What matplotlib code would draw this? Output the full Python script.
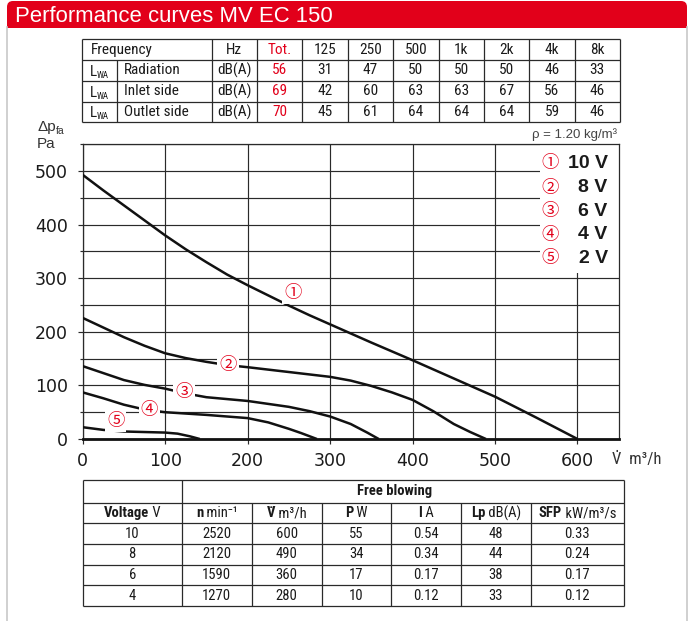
import matplotlib
matplotlib.use("Agg")
import matplotlib.pyplot as plt
from matplotlib import font_manager as fm
from matplotlib.patches import Rectangle, FancyBboxPatch

# ---------------- data ----------------
title = "Performance curves MV EC 150"
freq_labels = ["125", "250", "500", "1k", "2k", "4k", "8k"]
sound_rows = ["Radiation", "Inlet side", "Outlet side"]
sound_tot = [56, 69, 70]
sound_radiation = [31, 47, 50, 50, 50, 46, 33]
sound_inlet = [42, 60, 63, 63, 67, 56, 46]
sound_outlet = [45, 61, 64, 64, 64, 59, 46]

q_10v = [0, 25, 50, 75, 100, 125, 150, 175, 200, 225, 250, 275, 300, 350, 400, 450, 500, 550, 600]
dp_10v = [493, 464, 436, 408, 380, 354, 330, 307, 287, 268, 249, 231, 214, 180, 147, 113, 79, 40, 0]
q_8v = [0, 25, 50, 75, 100, 125, 150, 175, 200, 250, 300, 325, 350, 375, 400, 425, 450, 470, 489]
dp_8v = [226, 208, 190, 174, 160, 151, 144, 138, 134, 125, 116, 109, 99, 87, 73, 52, 28, 13, 0]
q_6v = [0, 25, 50, 75, 100, 125, 150, 200, 250, 275, 300, 325, 345, 359]
dp_6v = [136, 123, 110, 101, 94, 85, 78, 71, 60, 52, 42, 28, 12, 0]
q_4v = [0, 25, 50, 75, 100, 150, 200, 225, 250, 265, 284]
dp_4v = [87, 76, 64, 55, 50, 45, 39, 31, 19, 11, 0]
q_2v = [0, 25, 50, 75, 100, 115, 130, 142]
dp_2v = [22, 17, 14, 13, 12, 10, 5, 0]

curve_marks = ["\u2460", "\u2461", "\u2462", "\u2463", "\u2464"]
legend_labels = ["10 V", "8 V", "6 V", "4 V", "2 V"]

fb_voltage = ["10", "8", "6", "4"]
fb_n = ["2520", "2120", "1590", "1270"]
fb_q = ["600", "490", "360", "280"]
fb_p = ["55", "34", "17", "10"]
fb_i = ["0.54", "0.34", "0.17", "0.12"]
fb_lp = ["48", "44", "38", "33"]
fb_sfp = ["0.33", "0.24", "0.17", "0.12"]

# ---------------- style / layout ----------------
RED = "#e2001a"
INK = "#1a1a1a"
names = set(f.name for f in fm.fontManager.ttflist)
NARROW = next((n for n in ["Liberation Sans Narrow", "Roboto Condensed",
                           "Open Sans Condensed", "Arial Narrow"] if n in names),
              "Liberation Sans")
NARROW_F = [NARROW, "DejaVu Sans"]
SANS_F = ["Liberation Sans", "DejaVu Sans"]
CIRC_F = ["Noto Sans CJK JP", "DejaVu Sans"]

W, H = 692, 621
fig = plt.figure(figsize=(W / 100, H / 100), dpi=100)
fig.patch.set_facecolor("white")

# overlay in pixel coordinates
ax0 = fig.add_axes([0, 0, 1, 1], zorder=0)
ax0.set_xlim(0, W)
ax0.set_ylim(H, 0)
ax0.axis("off")

# banner
ax0.add_patch(FancyBboxPatch((7, 1), 680, 26, boxstyle="round,pad=0,rounding_size=6",
                             fc=RED, ec="none"))
ax0.add_patch(Rectangle((7, 14), 680, 13.5, fc=RED, ec="none"))
ax0.text(15, 22.3, title, color="white", fontsize=15.9, family=SANS_F, va="baseline", ha="left")
# frame
ax0.plot([7, 7], [27, H], color="#c8c8c8", lw=1.2)
ax0.plot([686.5, 686.5], [27, H], color="#c8c8c8", lw=1.2)

LINE = "#2a2a2a"


def hline(x0, x1, y, lw=0.9):
    ax0.plot([x0, x1], [y, y], color=LINE, lw=lw, solid_capstyle="butt")


def vline(x, y0, y1, lw=0.9):
    ax0.plot([x, x], [y0, y1], color=LINE, lw=lw, solid_capstyle="butt")


# ---------------- top sound table ----------------
tx0, tx1, cw = 81.7, 211.7, 45.37
ty = [39.3 + 20.75 * i for i in range(5)]
ncols = 9
cx = [tx1 + cw * i for i in range(ncols + 1)]
for y in ty:
    hline(tx0, cx[-1], y)
for x in [tx0] + cx:
    vline(x, ty[0], ty[-1])
vline(116.7, ty[1], ty[-1])
TS = 11
head = ["Hz", "Tot."] + freq_labels
yc0 = (ty[0] + ty[1]) / 2
ax0.text(90.5, yc0, "Frequency", fontsize=TS, family=NARROW_F, va="center", ha="left", color=INK)
for j, h in enumerate(head):
    ax0.text((cx[j] + cx[j + 1]) / 2, yc0, h, fontsize=TS, family=NARROW_F, va="center",
             ha="center", color=RED if j == 1 else INK)
rows_vals = [sound_radiation, sound_inlet, sound_outlet]
for i, (name, tot, vals) in enumerate(zip(sound_rows, sound_tot, rows_vals)):
    yc = (ty[i + 1] + ty[i + 2]) / 2
    ax0.text(90.0, yc + 5.5, "L", fontsize=TS, family=NARROW_F, va="baseline", ha="left", color=INK)
    ax0.text(96.8, yc + 7.5, "WA", fontsize=6.5, family=NARROW_F, va="baseline", ha="left", color=INK)
    ax0.text(124.3, yc, name, fontsize=TS, family=NARROW_F, va="center", ha="left", color=INK)
    cells = ["dB(A)", str(tot)] + [str(v) for v in vals]
    for j, c in enumerate(cells):
        ax0.text((cx[j] + cx[j + 1]) / 2, yc, c, fontsize=TS, family=NARROW_F, va="center",
                 ha="center", color=RED if j == 1 else INK)

# y-axis caption and density note
ax0.text(37, 131.5, "\u0394p", fontsize=11, family=SANS_F, va="baseline", ha="left", color="#333")
ax0.text(55.5, 134.5, "fa", fontsize=7.5, family=SANS_F, va="baseline", ha="left", color="#333")
ax0.text(37, 147.5, "Pa", fontsize=11, family=SANS_F, va="baseline", ha="left", color="#333")
ax0.text(616.7, 134.5, "\u03c1 = 1.20 kg/m\u00b3", fontsize=9.5, family=SANS_F, va="center",
         ha="right", color="#444")
ax0.text(611.5, 459, "V\u0307  m\u00b3/h", fontsize=12, family=NARROW_F, va="center",
         ha="left", color="#333")

# ---------------- main chart ----------------
L, R, T, B = 82.7, 618.7, 144.3, 439.0
ax = fig.add_axes([L / W, (H - B) / H, (R - L) / W, (B - T) / H], zorder=1)
ax.set_xlim(0, 650)
ax.set_ylim(0, 550)
ax.set_xticks(range(0, 601, 100))
ax.set_yticks(range(0, 501, 100))
ax.set_yticks(range(50, 551, 100), minor=True)
ax.set_axisbelow(True)
ax.grid(True, which="both", axis="y", color="#2a2a2a", lw=0.85)
ax.grid(True, which="major", axis="x", color="#2a2a2a", lw=0.85)
ax.tick_params(axis="both", which="major", direction="out", length=3.5, width=0.85,
               color="#2a2a2a", labelsize=12.5, labelcolor=INK)
ax.tick_params(axis="y", which="minor", direction="out", length=2.5, width=0.85, color="#2a2a2a")
ax.tick_params(axis="x", pad=6)
ax.tick_params(axis="y", pad=7)
for lab in ax.get_xticklabels() + ax.get_yticklabels():
    lab.set_family("DejaVu Sans")
for s in ["top", "left", "right"]:
    ax.spines[s].set_linewidth(0.9)
    ax.spines[s].set_color("#2a2a2a")
ax.spines["bottom"].set_linewidth(2.0)
ax.spines["bottom"].set_color("#111")

# white legend panel
ax.add_patch(Rectangle((554, 310), 96, 240, fc="white", ec="none", zorder=1.5))

series = [(q_10v, dp_10v), (q_8v, dp_8v), (q_6v, dp_6v), (q_4v, dp_4v), (q_2v, dp_2v)]
for q, dp in series:
    ax.plot(q, dp, color="#111", lw=1.8, zorder=3, solid_capstyle="butt", solid_joinstyle="round")

mark_pos = [(255, 272), (176, 138), (123, 87), (81, 54), (40, 34)]
for m, (x, y) in zip(curve_marks, mark_pos):
    ax.text(x, y, m, fontsize=12.5, family=CIRC_F, color=RED, ha="center", va="center",
            zorder=4, bbox=dict(boxstyle="square,pad=0.12", fc="white", ec="none"))

leg_y = [163.3, 187.5, 211.3, 234.8, 258.3]
for m, lab, yy in zip(curve_marks, legend_labels, leg_y):
    fig.text(550 / W, 1 - yy / H, m, fontsize=12.5, family=CIRC_F, color=RED, ha="center",
             va="center", zorder=5)
    fig.text(607.7 / W, 1 - yy / H, lab, fontsize=14, family=SANS_F, fontweight="bold",
             color=INK, ha="right", va="center", zorder=5)

# ---------------- bottom table ----------------
bx = [82.7, 181.7, 251.7, 321.7, 391.0, 461.0, 531.0, 623.7]
by = [480.0, 502.7, 523.3, 544.0, 564.7, 585.3, 606.0]
for y in by:
    hline(bx[0], bx[-1], y)
vline(bx[0], by[0], by[-1])
vline(bx[1], by[0], by[-1])
vline(bx[-1], by[0], by[-1])
for x in bx[2:-1]:
    vline(x, by[1], by[-1])

BS = 10.5
renderer = fig.canvas.get_renderer()


def mixed(xc, yc, parts, size):
    objs = [ax0.text(0, yc, t, fontsize=size, fontweight=w, family=NARROW_F, va="center",
                     ha="left", color=INK) for t, w in parts]
    widths = [o.get_window_extent(renderer).width for o in objs]
    x = xc - sum(widths) / 2
    for o, wd in zip(objs, widths):
        o.set_x(x)
        x += wd


ax0.text((bx[1] + bx[-1]) / 2 - 8, (by[0] + by[1]) / 2, "Free blowing", fontsize=BS,
         fontweight="bold", family=NARROW_F, va="center", ha="center", color=INK)
headers = [
    [("Voltage", "bold"), (" V", "normal")],
    [("n", "bold"), (" min\u207b\u00b9", "normal")],
    [("V\u0307", "bold"), (" m\u00b3/h", "normal")],
    [("P", "bold"), (" W", "normal")],
    [("I", "bold"), (" A", "normal")],
    [("Lp", "bold"), (" dB(A)", "normal")],
    [("SFP", "bold"), (" kW/m\u00b3/s", "normal")],
]
yh = (by[1] + by[2]) / 2
for j, parts in enumerate(headers):
    mixed((bx[j] + bx[j + 1]) / 2, yh, parts, BS)
cols = [fb_voltage, fb_n, fb_q, fb_p, fb_i, fb_lp, fb_sfp]
for j, col in enumerate(cols):
    for i, v in enumerate(col):
        ax0.text((bx[j] + bx[j + 1]) / 2, (by[i + 2] + by[i + 3]) / 2, v, fontsize=BS,
                 family=NARROW_F, va="center", ha="center", color=INK)

fig.savefig("out.png", dpi=100)
